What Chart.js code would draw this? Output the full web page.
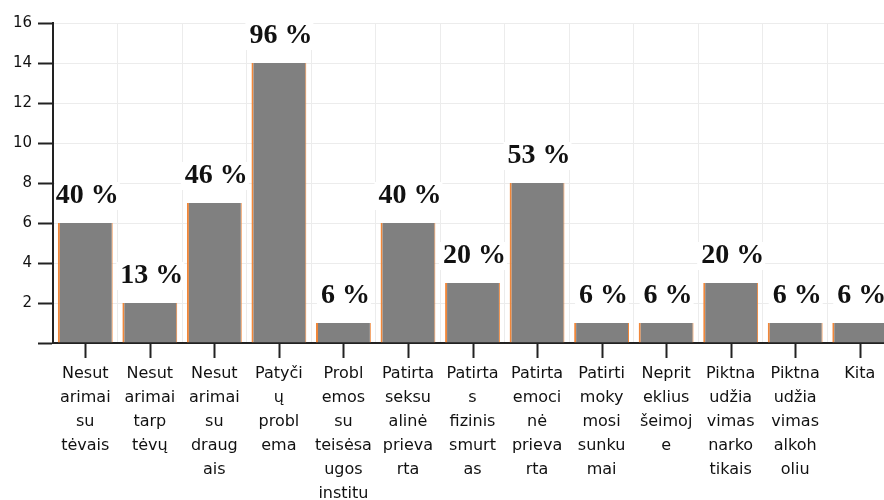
<!DOCTYPE html>
<html>
<head>
<meta charset="utf-8">
<script src="https://cdn.jsdelivr.net/npm/chart.js@4"></script>
<style>
  html, body { margin: 0; padding: 0; background: #fff; overflow: hidden; }
  #wrap { width: 900px; height: 500px; }
</style>
</head>
<body>
<div id="wrap"><canvas id="barChart" width="900" height="500"></canvas></div>
<script>
// Category labels, already broken into the lines shown under the axis.
const categories = [
    ['Nesut', 'arimai', 'su', 'tėvais'],
    ['Nesut', 'arimai', 'tarp', 'tėvų'],
    ['Nesut', 'arimai', 'su', 'draug', 'ais'],
    ['Patyči', 'ų', 'probl', 'ema'],
    ['Probl', 'emos', 'su', 'teisėsa', 'ugos', 'institu'],
    ['Patirta', 'seksu', 'alinė', 'prieva', 'rta'],
    ['Patirta', 's', 'fizinis', 'smurt', 'as'],
    ['Patirta', 'emoci', 'nė', 'prieva', 'rta'],
    ['Patirti', 'moky', 'mosi', 'sunku', 'mai'],
    ['Neprit', 'eklius', 'šeimoj', 'e'],
    ['Piktna', 'udžia', 'vimas', 'narko', 'tikais'],
    ['Piktna', 'udžia', 'vimas', 'alkoh', 'oliu'],
    ['Kita']
];
const counts = [6, 2, 7, 14, 1, 6, 3, 8, 1, 1, 3, 1, 1];
const percents = [40, 13, 46, 96, 6, 40, 20, 53, 6, 6, 20, 6, 6];
const yTicks = [0, 2, 4, 6, 8, 10, 12, 14, 16];

const textColor = '#111111';

// Percent labels over bars, on a white box, plus the centred tick marks on x.
const overlayPlugin = {
    id: 'overlay',
    afterDatasetsDraw(chart) {
        const ctx = chart.ctx;
        const area = chart.chartArea;
        const xScale = chart.scales.x;
        const meta = chart.getDatasetMeta(0);

        ctx.save();
        ctx.strokeStyle = '#222';
        ctx.lineWidth = 2;
        meta.data.forEach((bar, i) => {
            const x = Math.round(xScale.getPixelForValue(i)) + 0.5;
            ctx.beginPath();
            ctx.moveTo(x, area.bottom);
            ctx.lineTo(x, area.bottom + 15);
            ctx.stroke();
        });

        ctx.font = 'bold 28px "Liberation Serif", "Times New Roman", serif';
        ctx.textAlign = 'center';
        ctx.textBaseline = 'middle';
        meta.data.forEach((bar, i) => {
            const txt = percents[i] + ' %';
            const w = ctx.measureText(txt).width;
            const cy = bar.y - 27;
            const left = Math.max(area.left + 2, bar.x - w / 2 - 2);
            ctx.fillStyle = '#ffffff';
            ctx.fillRect(left, cy - 14, bar.x + w / 2 + 3 - left, 28);
            ctx.fillStyle = textColor;
            ctx.fillText(txt, bar.x + 2, cy);
        });
        ctx.restore();
    }
};

const ctx = document.getElementById('barChart').getContext('2d');
new Chart(ctx, {
    type: 'bar',
    data: {
        labels: categories,
        datasets: [{
            data: counts,
            backgroundColor: '#808080',
            borderColor: '#f0873a',
            borderWidth: { left: 2, right: 1, top: 0, bottom: 0 },
            barPercentage: 0.85,
            categoryPercentage: 1
        }]
    },
    options: {
        responsive: false,
        animation: false,
        layout: { padding: { top: 23, right: 8, left: 0, bottom: 0 } },
        plugins: {
            legend: { display: false },
            tooltip: { enabled: false }
        },
        scales: {
            x: {
                afterFit: (scale) => { scale.height = 157; },
                grid: {
                    offset: true,
                    color: '#ececec',
                    drawTicks: false
                },
                border: { color: '#222', width: 2 },
                ticks: {
                    color: textColor,
                    font: { family: '"DejaVu Sans", Verdana, sans-serif', size: 16, lineHeight: 1.5 },
                    padding: 19,
                    maxRotation: 0,
                    autoSkip: false
                }
            },
            y: {
                min: yTicks[0],
                max: yTicks[yTicks.length - 1],
                afterFit: (scale) => { scale.width = 53; },
                afterBuildTicks: (scale) => { scale.ticks = yTicks.map(v => ({ value: v })); },
                grid: {
                    color: '#ececec',
                    tickColor: '#222',
                    tickLength: 15,
                    tickWidth: 2
                },
                border: { color: '#222', width: 2 },
                ticks: {
                    color: textColor,
                    font: { family: '"DejaVu Sans", Verdana, sans-serif', size: 15 },
                    padding: 6,
                    callback: (v) => v === 0 ? '' : v
                }
            }
        }
    },
    plugins: [overlayPlugin]
});
</script>
</body>
</html>
